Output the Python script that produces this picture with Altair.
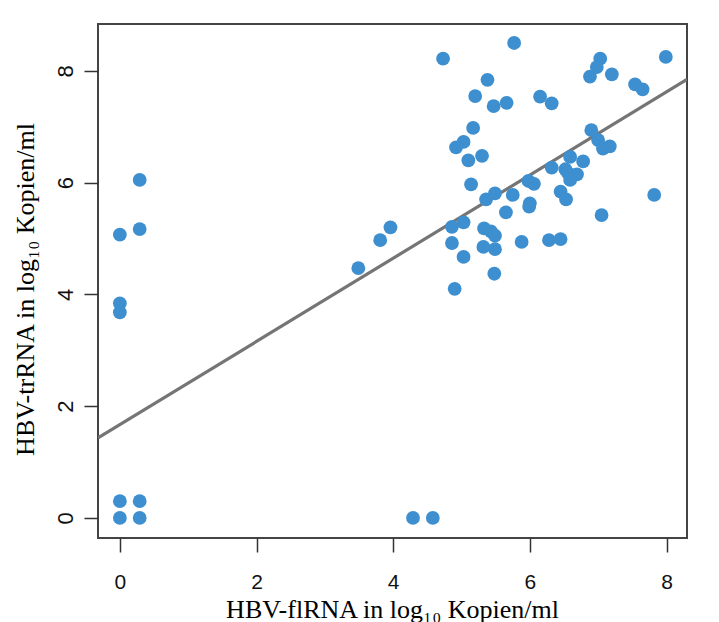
import altair as alt
import pandas as pd

# HBV-flRNA (x) and HBV-trRNA (y), log10 copies/ml
fl_rna = [0, 0.29, 0.29, 0, 0, 0, 0.29, 0, 0.29,
          4.29, 4.58,
          3.49, 3.81, 3.96,
          4.73, 5.77, 5.38, 5.20, 5.47, 5.66, 6.15, 6.32, 7.03, 6.98,
          6.88, 7.20, 7.99, 7.54, 7.65, 5.17, 5.03, 4.92, 5.30, 5.10,
          6.90, 7.00, 7.07, 7.17, 6.59, 6.78, 6.32, 6.52, 6.56, 6.69,
          6.59, 5.98, 6.06, 6.45, 6.53, 5.75, 5.49, 5.36, 5.14, 6.00,
          5.99, 5.65, 7.05, 7.82, 5.03, 4.86, 5.33, 5.43, 5.49, 4.86,
          5.32, 5.49, 5.88, 6.28, 6.45, 5.03, 5.48, 4.90]
tr_rna = [5.07, 5.17, 6.05, 3.84, 3.68, 0.30, 0.30, 0, 0,
          0, 0,
          4.47, 4.97, 5.20,
          8.22, 8.50, 7.84, 7.55, 7.37, 7.43, 7.54, 7.42, 8.22, 8.07,
          7.90, 7.94, 8.25, 7.76, 7.67, 6.98, 6.73, 6.63, 6.48, 6.40,
          6.94, 6.76, 6.61, 6.65, 6.46, 6.38, 6.27, 6.24, 6.17, 6.15,
          6.05, 6.03, 5.98, 5.84, 5.70, 5.78, 5.81, 5.70, 5.97, 5.63,
          5.57, 5.47, 5.42, 5.78, 5.29, 5.21, 5.18, 5.13, 5.05, 4.92,
          4.85, 4.81, 4.94, 4.97, 4.99, 4.67, 4.37, 4.10]

# regression line end points (at the panel edges)
line_x = [-0.32, 8.30]
line_y = [1.43, 7.85]

tick_vals = [0, 2, 4, 6, 8]
x_domain = [-0.32, 8.30]
y_domain = [-0.36, 8.84]

pts = pd.DataFrame({"fl": fl_rna, "tr": tr_rna})
ln = pd.DataFrame({"fl": line_x, "tr": line_y})

x_title = "HBV-flRNA in log\u2081\u2080 Kopien/ml"
y_title = "HBV-trRNA in log\u2081\u2080 Kopien/ml"

xs = alt.Scale(domain=x_domain, nice=False, zero=False)
ys = alt.Scale(domain=y_domain, nice=False, zero=False)

x_axis = alt.Axis(values=tick_vals, format="d", title=x_title, grid=False, domain=False,
                  tickSize=14, tickColor="#333", tickWidth=1.5,
                  labelFont="Liberation Sans", labelFontSize=21, labelColor="#111",
                  labelPadding=19, labelBaseline="top",
                  titleFont="Liberation Serif", titleFontSize=26,
                  titleFontWeight="normal", titleColor="#000",
                  titleX=294, titleY=79, titleBaseline="alphabetic", titleAlign="center")
y_axis = alt.Axis(values=tick_vals, format="d", title=y_title, grid=False, domain=False,
                  tickSize=14, tickColor="#333", tickWidth=1.5,
                  labelFont="Liberation Sans", labelFontSize=22, labelColor="#111",
                  labelPadding=12, labelAngle=270, labelAlign="center",
                  labelBaseline="alphabetic",
                  titleFont="Liberation Serif", titleFontSize=26,
                  titleFontWeight="normal", titleColor="#000",
                  titleX=-65, titleY=265, titleAngle=270,
                  titleBaseline="alphabetic", titleAlign="center")

points = alt.Chart(pts).mark_circle(size=190, color="#3d8fcf", opacity=1).encode(
    x=alt.X("fl:Q", scale=xs, axis=x_axis),
    y=alt.Y("tr:Q", scale=ys, axis=y_axis),
)

line = alt.Chart(ln).mark_line(color="#757575", strokeWidth=3.2, clip=True).encode(
    x=alt.X("fl:Q", scale=xs),
    y=alt.Y("tr:Q", scale=ys),
)

chart = alt.layer(line, points).properties(
    width=589, height=514,
    autosize=alt.AutoSizeParams(type="none"),
    padding={"left": 98, "top": 24, "right": 32, "bottom": 84},
    background="white",
).configure_view(stroke="#444", strokeWidth=2)

chart.save("out.html", embed_options={"renderer": "svg", "actions": False})
